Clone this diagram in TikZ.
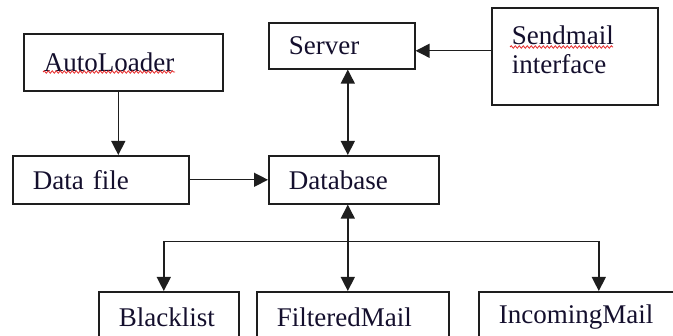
\documentclass[tikz,border=0pt]{standalone}
\usepackage{fontspec}
\setmainfont{Liberation Serif}
\usepackage{tikz}
\usetikzlibrary{arrows.meta, positioning, calc, decorations.pathmorphing}
\definecolor{boxline}{RGB}{30, 30, 30}
\definecolor{boxtext}{RGB}{20, 15, 45}
\definecolor{spellred}{RGB}{230, 40, 40}

\begin{document}
\begin{tikzpicture}[
    x=1pt, y=-1pt,
    every node/.style={font=\fontsize{27}{29}\selectfont, text=boxtext},
    blockbox/.style={rectangle, draw=boxline, line width=1.6pt, anchor=north west,
                     inner xsep=20pt, inner ysep=0pt, align=left},
    arrow/.style={-{Triangle[length=14pt, width=14pt]}, line width=1.4pt, color=boxline},
    dblarrow/.style={{Triangle[length=14pt, width=14pt]}-{Triangle[length=14pt, width=14pt]},
                     line width=1.4pt, color=boxline},
    squiggle/.style={spellred, line width=0.8pt,
                     decorate, decoration={snake, segment length=4pt, amplitude=1.2pt}}
]
\useasboundingbox (0,0) rectangle (673,336);
\clip (0,0) rectangle (673,336);

% Top row
\node[blockbox, text width=159pt, minimum height=57pt] (auto) at (23,33) {AutoLoader};
\node[blockbox, text width=106pt, minimum height=46pt] (server) at (268,22) {Server};
\node[blockbox, text width=126pt, minimum height=97pt, text depth=43pt] (send) at (491,7) {Sendmail\\interface};

% Middle row
\node[blockbox, text width=136pt, minimum height=48pt] (dfile) at (12,155) {Data file};
\node[blockbox, text width=130pt, minimum height=48pt] (db) at (268,155) {Database};

% Bottom row
\node[blockbox, text width=100pt, minimum height=50pt] (black) at (98,291) {Blacklist};
\node[blockbox, text width=152pt, minimum height=50pt] (filt) at (256,291) {FilteredMail};
\node[blockbox, text width=200pt, minimum height=50pt] (inc) at (478,291) {IncomingMail};

% Spell-check marks
\draw[squiggle] ([xshift=20pt, yshift=-39pt]auto.north west) -- ++(132,0);
\draw[squiggle] ([xshift=19pt, yshift=-40pt]send.north west) -- ++(103,0);

% Arrow ends
\coordinate (srvin) at ([yshift=-5pt]server.east);
\coordinate (srvout) at ([xshift=6pt]server.south);
\coordinate (dbout) at ([xshift=-6pt]db.south);
\coordinate (autoout) at ([xshift=-5pt]auto.south);

% Main arrows
\draw[arrow] (autoout) -- (autoout |- dfile.north);
\draw[arrow] (send.west |- srvin) -- (srvin);
\draw[dblarrow] (srvout) -- (srvout |- db.north);
\draw[arrow] (dfile) -- (db);
\draw[dblarrow] (dbout) -- (dbout |- filt.north);

% Branch arrows
\coordinate (bus) at ($(dbout)!0.43!(dbout |- filt.north)$);
\draw[arrow] (bus) -| ([xshift=-5pt]black.north);
\draw[arrow] (bus) -| (inc.north);

\end{tikzpicture}
\end{document}
